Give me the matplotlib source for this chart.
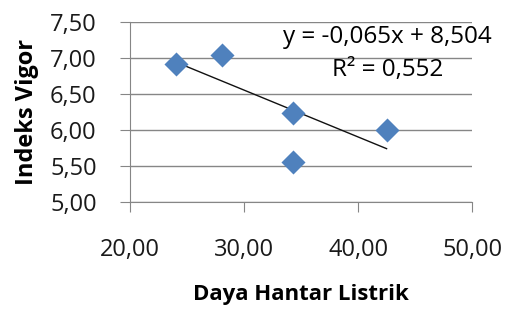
import matplotlib.pyplot as plt
from matplotlib.ticker import FuncFormatter

# data
dhl = [24.0, 28.1, 34.3, 34.3, 42.5]
vigor = [6.92, 7.04, 6.24, 5.55, 6.00]
slope = -0.065
intercept = 8.504
r2 = 0.552

x_ticks = [20, 30, 40, 50]
y_ticks = [5.0, 5.5, 6.0, 6.5, 7.0, 7.5]

plt.rcParams['font.family'] = ['Open Sans', 'DejaVu Sans']

fig = plt.figure(figsize=(5.06, 3.09), dpi=100)
ax = fig.add_axes([0.257, 0.346, 0.676, 0.583])

ax.scatter(dhl, vigor, marker='D', s=150, color='#4F81BD', zorder=3, linewidths=0)

# linear trendline across the data range
xs = [min(dhl), max(dhl)]
ax.plot(xs, [slope * v + intercept for v in xs], color='#111111', lw=1.0, zorder=2)

ax.set_xlim(20, 50)
ax.set_ylim(5.0, 7.5)
ax.set_xticks(x_ticks)
ax.set_yticks(y_ticks)
fmt = FuncFormatter(lambda v, p: f"{v:.2f}".replace('.', ','))
ax.xaxis.set_major_formatter(fmt)
ax.yaxis.set_major_formatter(fmt)

ax.grid(axis='y', color='#868686', lw=1)
ax.set_axisbelow(True)
for s in ['top', 'right']:
    ax.spines[s].set_visible(False)
for s in ['left', 'bottom']:
    ax.spines[s].set_color('#868686')
ax.tick_params(axis='x', length=7, color='#868686', pad=19, labelsize=17, labelcolor='#1a1a1a')
ax.tick_params(axis='y', length=7, color='#868686', pad=17, labelsize=17, labelcolor='#1a1a1a')

ax.set_xlabel("Daya Hantar Listrik", fontsize=16, fontweight='bold', labelpad=16)
ax.set_ylabel("Indeks Vigor", fontsize=17, fontweight='bold', labelpad=8)

ax.text(1.056, 0.915, f"y = {slope:.3f}x + {intercept:.3f}".replace('.', ','),
        transform=ax.transAxes, ha='right', va='center', fontsize=17.5)
ax.text(0.753, 0.733, f"R² = {r2:.3f}".replace('.', ','),
        transform=ax.transAxes, ha='center', va='center', fontsize=17.5)

fig.savefig("out.png", dpi=100)
